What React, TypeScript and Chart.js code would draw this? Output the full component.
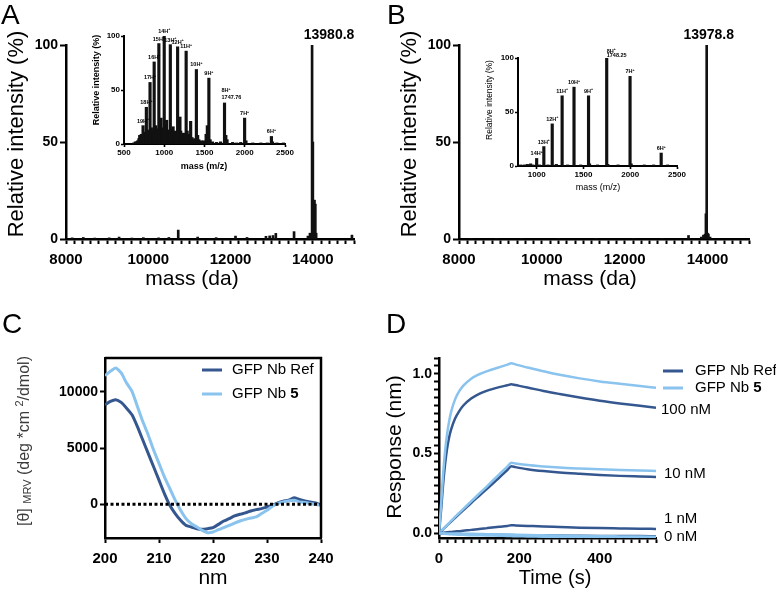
import React, { useEffect, useRef } from 'react';
import { Chart, registerables } from 'chart.js';

Chart.register(...registerables);

const W = 776;
const H = 594;
const FF = 'Arial, "Liberation Sans", Helvetica, sans-serif';
const INK = '#111111';
const DARK = '#35578F';
const LIGHT = '#89C3EE';

// ===== Panel A : deconvoluted mass spectrum =====
const massA = [8150, 8420, 8700, 9050, 9290, 9600, 9880, 10250, 10500, 10728, 11200, 11650, 12120, 12400, 12860, 12950, 13030, 13100, 13543, 13880, 13930, 13981, 14000, 14020, 14040, 14060, 14080, 14950];
const intensA = [0.6, 0.8, 0.5, 0.6, 1.0, 0.5, 0.7, 0.6, 0.8, 4.6, 1.0, 0.7, 1.5, 0.8, 1.4, 1.6, 1.8, 2.9, 3.8, 1.5, 3.0, 100, 50, 20, 20, 18, 3, 2];
const apexMassA = 13980.8;
const apexLabelA = '13980.8';

// ===== Panel A inset : m/z spectrum =====
const ionChargeA = [19, 18, 17, 16, 15, 14, 13, 12, 11, 10, 9, 8, 7, 6];
const ionMzA = [736.8, 777.7, 823.4, 874.8, 933.1, 999.6, 1075.5, 1166.1, 1272.0, 1399.1, 1554.4, 1748.6, 1998.3, 2331.1];
const ionIntA = [17, 34, 57, 76, 93, 100, 92, 90, 86, 69, 61, 38, 24, 7];
const bgMzA = [620, 640, 655, 670, 685, 695, 705, 715, 725, 745, 752, 760, 768, 790, 798, 805, 815, 832, 840, 848, 858, 866, 885, 895, 905, 915, 945, 952, 960, 968, 980, 988, 1010, 1020, 1030, 1040, 1050, 1060, 1088, 1100, 1110, 1120, 1130, 1140, 1150, 1178, 1188, 1195, 1205, 1215, 1230, 1245, 1255, 1285, 1300, 1315, 1328, 1345, 1360, 1380, 1415, 1430, 1460, 1490, 1520, 1535, 1570, 1600, 1650, 1700, 1765, 1780, 1850, 1900, 1950, 2015, 2100, 2200, 2280, 2345, 2400, 2480];
const bgIntA = [1, 2, 2, 3, 5, 8, 6, 9, 7, 10, 8, 11, 9, 13, 9, 12, 10, 11, 15, 10, 12, 9, 12, 17, 11, 14, 13, 18, 24, 15, 12, 10, 14, 18, 22, 12, 10, 13, 12, 14, 16, 10, 9, 12, 8, 14, 20, 25, 12, 9, 10, 8, 10, 12, 8, 9, 21, 6, 4, 5, 8, 4, 3, 3, 9, 17, 4, 2, 1.5, 2, 8, 4, 1.5, 1, 1.5, 3, 1, 1, 1, 2, 1, 1];
const noteChargeA = 8;
const noteTextA = '1747.76';

// ===== Panel B : deconvoluted mass spectrum =====
const massB = [8300, 8900, 9500, 10400, 11300, 12200, 12900, 13540, 13850, 13900, 13940, 13960, 13978.8, 14000, 14020, 14060];
const intensB = [0.3, 0.3, 0.2, 0.3, 0.2, 0.3, 0.3, 1.8, 1, 2, 2.5, 13, 100, 3, 2.5, 1];
const apexMassB = 13978.8;
const apexLabelB = '13978.8';

// ===== Panel B inset =====
const ionChargeB = [14, 13, 12, 11, 10, 9, 8, 7, 6];
const ionMzB = [999.5, 1076.3, 1165.9, 1271.8, 1398.9, 1554.2, 1748.4, 1998.0, 2330.8];
const ionIntB = [7, 18, 39, 65, 73, 65, 100, 83, 12];
const bgMzB = [830, 870, 900, 935, 960, 1030, 1120, 1210, 1330, 1470, 1565, 1650, 1760, 1870, 2010, 2150, 2250, 2400];
const bgIntB = [1, 1, 1.5, 2, 1, 1, 1, 1.5, 1, 1, 2, 1, 1.5, 1, 2, 1, 1, 1];
const noteChargeB = 8;
const noteTextB = '1748.25';

// ===== Panel C : CD spectra =====
const wavelengthC = [200, 201, 202, 203, 204, 205, 206, 207, 208, 209, 210, 211, 212, 213, 214, 215, 216, 217, 218, 219, 220, 221, 222, 223, 224, 225, 226, 227, 228, 229, 230, 231, 232, 233, 234, 235, 236, 237, 238, 239, 240];
const refC = [8840, 9140, 9290, 9050, 8540, 7950, 6900, 5710, 4520, 3330, 2140, 950, -90, -830, -1430, -1880, -2020, -2170, -2230, -2170, -2080, -1790, -1490, -1280, -1040, -890, -770, -600, -480, -390, -240, -90, 120, 270, 360, 570, 420, 300, 210, 120, -90];
const nb5C = [11430, 11820, 12110, 11670, 10770, 10030, 8690, 7350, 6160, 4820, 3630, 2440, 1400, 360, -540, -1280, -1730, -2020, -2320, -2530, -2470, -2260, -2080, -1880, -1670, -1490, -1340, -1220, -1130, -830, -540, -180, 60, 210, 300, 360, 210, 150, 60, -30, -90];
const zeroLineX = [200, 240];

// ===== Panel D : BLI sensorgrams =====
const timeD = [0, 3, 6, 10, 15, 20, 25, 30, 40, 50, 60, 80, 100, 120, 150, 170, 180, 190, 220, 260, 300, 350, 400, 450, 500, 540];
const refD100 = [0, 0.08, 0.17, 0.3, 0.43, 0.53, 0.6, 0.65, 0.72, 0.765, 0.8, 0.845, 0.875, 0.895, 0.917, 0.929, 0.935, 0.93, 0.915, 0.893, 0.874, 0.852, 0.832, 0.815, 0.8, 0.788];
const nb5D100 = [0, 0.1, 0.21, 0.36, 0.51, 0.62, 0.7, 0.76, 0.84, 0.89, 0.925, 0.97, 0.998, 1.018, 1.042, 1.058, 1.067, 1.06, 1.04, 1.017, 0.995, 0.972, 0.953, 0.938, 0.924, 0.913];
const refD10 = [0, 0.007, 0.014, 0.024, 0.037, 0.049, 0.061, 0.073, 0.097, 0.12, 0.143, 0.19, 0.235, 0.28, 0.35, 0.397, 0.42, 0.415, 0.402, 0.39, 0.381, 0.373, 0.366, 0.36, 0.356, 0.353];
const nb5D10 = [0, 0.008, 0.015, 0.025, 0.038, 0.051, 0.064, 0.077, 0.102, 0.127, 0.151, 0.2, 0.248, 0.296, 0.37, 0.418, 0.443, 0.438, 0.428, 0.419, 0.412, 0.406, 0.401, 0.397, 0.394, 0.391];
const refD1 = [0, 0.001, 0.002, 0.003, 0.004, 0.006, 0.007, 0.008, 0.011, 0.013, 0.016, 0.021, 0.027, 0.032, 0.04, 0.046, 0.05, 0.049, 0.046, 0.042, 0.039, 0.035, 0.032, 0.03, 0.028, 0.027];
const nb5D1 = [0, 0, 0, 0, -0.001, -0.001, -0.001, -0.002, -0.002, -0.003, -0.003, -0.004, -0.005, -0.006, -0.007, -0.008, -0.008, -0.009, -0.011, -0.013, -0.015, -0.017, -0.019, -0.02, -0.021, -0.022];
const refD0 = [0, -0.001, -0.001, -0.002, -0.002, -0.003, -0.003, -0.004, -0.004, -0.005, -0.006, -0.007, -0.008, -0.009, -0.01, -0.011, -0.012, -0.012, -0.013, -0.014, -0.015, -0.016, -0.017, -0.018, -0.018, -0.019];
const nb5D0 = [0, -0.001, -0.002, -0.003, -0.004, -0.005, -0.006, -0.007, -0.008, -0.009, -0.01, -0.012, -0.013, -0.014, -0.016, -0.017, -0.018, -0.019, -0.02, -0.022, -0.023, -0.024, -0.025, -0.026, -0.027, -0.028];
const concLabels = ['100 nM', '10 nM', '1 nM', '0 nM'];
const concLabelY = [0.774, 0.371, 0.088, -0.025];
const concLabelDx = [5, 8, 8, 8];

// ===== Axis tick labels =====
const majorMassX = [8000, 10000, 12000, 14000];
const majorPctY = [0, 50, 100];
const majorMzA = [500, 1000, 1500, 2000, 2500];
const majorMzB = [1000, 1500, 2000, 2500];
const majorNmX = [200, 210, 220, 230, 240];
const majorCdY = [0, 5000, 10000];
const majorTimeX = [0, 200, 400];
const majorRespY = [0, 0.5, 1.0];
const respLabels = ['0.0', '0.5', '1.0'];

const legendNames = ['GFP Nb Ref', 'GFP Nb '];
const legendBold = ['', '5'];

// ---------- helpers ----------
const range = (a: number, b: number, s: number) => {
  const out: number[] = [];
  for (let i = 0; a + i * s <= b + 1e-9; i++) out.push(+(a + i * s).toFixed(6));
  return out;
};
const near = (list: number[], v: number) => list.findIndex((m) => Math.abs(m - v) < 1e-6);
const font = (size: number, bold = false) => `${bold ? 'bold ' : ''}${size}px ${FF}`;

type Seg = { t: string; f: string; dy?: number };
function rich(ctx: CanvasRenderingContext2D, segs: Seg[], x: number, y: number, align: 'left' | 'center' | 'right' = 'center', rot = 0, color = '#000', baseline: CanvasTextBaseline = 'middle') {
  ctx.save();
  ctx.translate(x, y);
  if (rot) ctx.rotate(rot);
  ctx.textBaseline = baseline;
  ctx.textAlign = 'left';
  ctx.fillStyle = color;
  const widths = segs.map((s) => {
    ctx.font = s.f;
    return ctx.measureText(s.t).width;
  });
  const total = widths.reduce((a, b) => a + b, 0);
  let cx = align === 'left' ? 0 : align === 'right' ? -total : -total / 2;
  segs.forEach((s, i) => {
    ctx.font = s.f;
    ctx.fillText(s.t, cx, s.dy || 0);
    cx += widths[i];
  });
  ctx.restore();
}

type AxisSpec = {
  min: number;
  max: number;
  ticks: number[];
  label: (v: number) => string;
  size: number;
  font: number;
  tickLen: number;
  pad: number;
  border: number;
};

function axis(a: AxisSpec, horizontal: boolean) {
  return {
    type: 'linear',
    min: a.min,
    max: a.max,
    offset: false,
    afterFit: (s: any) => {
      if (horizontal) s.height = a.size;
      else s.width = a.size;
    },
    afterBuildTicks: (s: any) => {
      s.ticks = a.ticks.map((v) => ({ value: v }));
    },
    grid: {
      display: true,
      drawOnChartArea: false,
      drawTicks: true,
      tickLength: a.tickLen,
      tickWidth: Math.max(1.5, a.border * 0.8),
      tickColor: '#000',
      color: '#000',
      offset: false,
    },
    border: { display: true, color: '#000', width: a.border },
    ticks: {
      autoSkip: false,
      maxRotation: 0,
      minRotation: 0,
      padding: a.pad,
      color: '#000',
      font: { family: FF, size: a.font, weight: 'bold' },
      callback: (v: any) => a.label(Number(v)),
    },
    title: { display: false },
  };
}

type Area = { l: number; t: number; r: number; b: number };

function makeChart(
  canvas: HTMLCanvasElement,
  type: 'bar' | 'line',
  datasets: any[],
  area: Area,
  x: Omit<AxisSpec, 'size'>,
  y: Omit<AxisSpec, 'size'>,
  draw: (c: any, ctx: CanvasRenderingContext2D) => void
) {
  return new Chart(canvas, {
    type,
    data: { datasets },
    options: {
      responsive: false,
      animation: false,
      devicePixelRatio: 1,
      events: [],
      layout: { padding: { left: 0, top: area.t, right: W - area.r, bottom: 0 } },
      plugins: { legend: { display: false }, tooltip: { enabled: false }, title: { display: false } },
      scales: {
        x: axis({ ...x, size: H - area.b }, true),
        y: axis({ ...y, size: area.l }, false),
      },
    } as any,
    plugins: [
      {
        id: 'extras',
        afterDraw: (c: any) => draw(c, c.ctx),
      },
    ],
  } as any);
}

const pts = (xs: number[], ys: number[]) => xs.map((v, i) => ({ x: v, y: ys[i] }));

function ionLabels(c: any, ctx: CanvasRenderingContext2D, charges: number[], mz: number[], ints: number[], note: number, noteText: string, noteOff: [number, number, number]) {
  const sx = c.scales.x;
  const sy = c.scales.y;
  charges.forEach((z, i) => {
    const px = sx.getPixelForValue(mz[i]);
    const py = sy.getPixelForValue(ints[i]);
    const segs: Seg[] = [
      { t: `${z}H`, f: font(5.5, true) },
      { t: '+', f: font(3.5, true), dy: -2 },
    ];
    if (z === note) {
      rich(ctx, segs, px + noteOff[0], py - noteOff[1], 'left');
      rich(ctx, [{ t: noteText, f: font(5.5, true) }], px + noteOff[0], py - noteOff[2], 'left');
    } else {
      rich(ctx, segs, px, py - 4.5, 'center');
    }
  });
}

function buildMainA(cv: HTMLCanvasElement) {
  return makeChart(
    cv,
    'bar',
    [{ data: pts(massA, intensA), backgroundColor: INK, borderWidth: 0, barThickness: 2 }],
    { l: 66, t: 45, r: 354, b: 239 },
    { min: 8000, max: 15000, ticks: range(8000, 15000, 200), label: (v) => (near(majorMassX, v) >= 0 ? String(v) : ''), font: 15, tickLen: 5, pad: 7, border: 2.5 },
    { min: 0, max: 100, ticks: majorPctY, label: (v) => String(v), font: 14, tickLen: 6, pad: 2, border: 2.5 },
    (c, ctx) => {
      const px = c.scales.x.getPixelForValue(apexMassA);
      const py = c.scales.y.getPixelForValue(100);
      rich(ctx, [{ t: apexLabelA, f: font(14, true) }], px + 17, py - 10);
      rich(ctx, [{ t: 'Relative intensity (%)', f: font(22) }], 17, 134, 'center', -Math.PI / 2);
      rich(ctx, [{ t: 'mass (da)', f: font(21) }], 192, 279);
      rich(ctx, [{ t: 'A', f: font(28) }], 1, 24, 'left', 0, '#000', 'alphabetic');
    }
  );
}

function buildInsetA(cv: HTMLCanvasElement) {
  return makeChart(
    cv,
    'bar',
    [{ data: pts(bgMzA.concat(ionMzA), bgIntA.concat(ionIntA)), backgroundColor: INK, borderWidth: 0, barThickness: 2.5 }],
    { l: 124, t: 36, r: 285, b: 144 },
    { min: 500, max: 2500, ticks: majorMzA, label: (v) => String(v), font: 8, tickLen: 3, pad: 1, border: 2 },
    { min: 0, max: 100, ticks: majorPctY, label: (v) => String(v), font: 8, tickLen: 3, pad: 1, border: 2 },
    (c, ctx) => {
      ionLabels(c, ctx, ionChargeA, ionMzA, ionIntA, noteChargeA, noteTextA, [-3, 12, 5]);
      rich(ctx, [{ t: 'Relative intensity (%)', f: font(9, true) }], 97, 80, 'center', -Math.PI / 2);
      rich(ctx, [{ t: 'mass (m/z)', f: font(9, true) }], 204, 167);
    }
  );
}

function buildMainB(cv: HTMLCanvasElement) {
  return makeChart(
    cv,
    'bar',
    [{ data: pts(massB, intensB), backgroundColor: INK, borderWidth: 0, barThickness: 2 }],
    { l: 459, t: 45, r: 749, b: 239 },
    { min: 8000, max: 15000, ticks: range(8000, 15000, 200), label: (v) => (near(majorMassX, v) >= 0 ? String(v) : ''), font: 15, tickLen: 5, pad: 7, border: 2.5 },
    { min: 0, max: 100, ticks: majorPctY, label: (v) => String(v), font: 14, tickLen: 6, pad: 2, border: 2.5 },
    (c, ctx) => {
      const px = c.scales.x.getPixelForValue(apexMassB);
      const py = c.scales.y.getPixelForValue(100);
      rich(ctx, [{ t: apexLabelB, f: font(14, true) }], px + 2, py - 10);
      rich(ctx, [{ t: 'Relative intensity (%)', f: font(22) }], 410, 134, 'center', -Math.PI / 2);
      rich(ctx, [{ t: 'mass (da)', f: font(21) }], 590, 279);
      rich(ctx, [{ t: 'B', f: font(28) }], 387, 24, 'left', 0, '#000', 'alphabetic');
    }
  );
}

function buildInsetB(cv: HTMLCanvasElement) {
  return makeChart(
    cv,
    'bar',
    [{ data: pts(bgMzB.concat(ionMzB), bgIntB.concat(ionIntB)), backgroundColor: INK, borderWidth: 0, barThickness: 2.5 }],
    { l: 518, t: 58, r: 677, b: 166 },
    { min: 800, max: 2500, ticks: majorMzB, label: (v) => String(v), font: 8, tickLen: 3, pad: 1, border: 2 },
    { min: 0, max: 100, ticks: majorPctY, label: (v) => String(v), font: 8, tickLen: 3, pad: 1, border: 2 },
    (c, ctx) => {
      ionLabels(c, ctx, ionChargeB, ionMzB, ionIntB, noteChargeB, noteTextB, [0, 7, 3]);
      rich(ctx, [{ t: 'Relative intensity (%)', f: font(8.5) }], 490, 100, 'center', -Math.PI / 2);
      rich(ctx, [{ t: 'mass (m/z)', f: font(9) }], 598, 188);
    }
  );
}

function buildC(cv: HTMLCanvasElement) {
  return makeChart(
    cv,
    'line',
    [
      { data: pts(zeroLineX, [0, 0]), borderColor: '#000', borderWidth: 3, borderDash: [3, 2.5], pointRadius: 0 },
      { data: pts(wavelengthC, nb5C), borderColor: LIGHT, borderWidth: 3, pointRadius: 0, tension: 0.2 },
      { data: pts(wavelengthC, refC), borderColor: DARK, borderWidth: 3, pointRadius: 0, tension: 0.2 },
    ],
    { l: 105, t: 358, r: 321, b: 538 },
    { min: 200, max: 240, ticks: majorNmX, label: (v) => String(v), font: 15, tickLen: 5, pad: 7, border: 2.5 },
    { min: -3000, max: 13000, ticks: majorCdY, label: (v) => String(v), font: 14, tickLen: 5, pad: 2, border: 2.5 },
    (c, ctx) => {
      const a = c.chartArea;
      ctx.save();
      ctx.strokeStyle = '#000';
      ctx.lineWidth = 2.5;
      ctx.beginPath();
      ctx.moveTo(a.left, a.top);
      ctx.lineTo(a.right, a.top);
      ctx.lineTo(a.right, a.bottom);
      ctx.stroke();
      [DARK, LIGHT].forEach((col, i) => {
        const yy = 370 + i * 24;
        ctx.strokeStyle = col;
        ctx.lineWidth = 3;
        ctx.beginPath();
        ctx.moveTo(202, yy);
        ctx.lineTo(222, yy);
        ctx.stroke();
        rich(ctx, [{ t: legendNames[i], f: font(15) }, { t: legendBold[i], f: font(15, true) }], 232, yy, 'left');
      });
      ctx.restore();
      rich(
        ctx,
        [
          { t: '[θ] ', f: font(16) },
          { t: 'MRV', f: font(11), dy: 3 },
          { t: ' (deg *cm ', f: font(16) },
          { t: '2', f: font(11), dy: -5 },
          { t: '/dmol)', f: font(16) },
        ],
        25,
        441,
        'center',
        -Math.PI / 2,
        '#3a3a3a'
      );
      rich(ctx, [{ t: 'nm', f: font(21) }], 213, 578);
      rich(ctx, [{ t: 'C', f: font(28) }], 2, 333, 'left', 0, '#000', 'alphabetic');
    }
  );
}

function buildD(cv: HTMLCanvasElement) {
  const line = (ys: number[], col: string) => ({ data: pts(timeD, ys), borderColor: col, borderWidth: 2.5, pointRadius: 0, cubicInterpolationMode: 'monotone' });
  return makeChart(
    cv,
    'line',
    [
      line(nb5D0, LIGHT),
      line(nb5D1, LIGHT),
      line(refD0, DARK),
      line(refD1, DARK),
      line(nb5D10, LIGHT),
      line(refD10, DARK),
      line(nb5D100, LIGHT),
      line(refD100, DARK),
    ],
    { l: 439, t: 358, r: 656, b: 538 },
    { min: 0, max: 540, ticks: range(0, 540, 20), label: (v) => (near(majorTimeX, v) >= 0 ? String(v) : ''), font: 15, tickLen: 5, pad: 7, border: 2.5 },
    { min: -0.03, max: 1.1, ticks: range(0, 1.1, 0.05), label: (v) => { const k = near(majorRespY, v); return k >= 0 ? respLabels[k] : ''; }, font: 14, tickLen: 5, pad: 2, border: 2.5 },
    (c, ctx) => {
      const a = c.chartArea;
      const sy = c.scales.y;
      concLabels.forEach((t, i) => {
        rich(ctx, [{ t, f: font(15) }], a.right + concLabelDx[i], sy.getPixelForValue(concLabelY[i]), 'left');
      });
      ctx.save();
      [DARK, LIGHT].forEach((col, i) => {
        const yy = 371 + i * 17;
        ctx.strokeStyle = col;
        ctx.lineWidth = 3;
        ctx.beginPath();
        ctx.moveTo(663, yy);
        ctx.lineTo(683, yy);
        ctx.stroke();
        rich(ctx, [{ t: legendNames[i], f: font(15) }, { t: legendBold[i], f: font(15, true) }], 695, yy, 'left');
      });
      ctx.restore();
      rich(ctx, [{ t: 'Response (nm)', f: font(21) }], 395, 447, 'center', -Math.PI / 2);
      rich(ctx, [{ t: 'Time (s)', f: font(20) }], 555, 578);
      rich(ctx, [{ t: 'D', f: font(28) }], 386, 333, 'left', 0, '#000', 'alphabetic');
    }
  );
}

export default function App() {
  const cvs = useRef<(HTMLCanvasElement | null)[]>([]);
  useEffect(() => {
    const builders = [buildMainA, buildMainB, buildC, buildD, buildInsetA, buildInsetB];
    const charts = builders.map((b, i) => b(cvs.current[i] as HTMLCanvasElement));
    return () => charts.forEach((c) => c.destroy());
  }, []);
  return (
    <div style={{ position: 'absolute', left: 0, top: 0, width: W, height: H, background: '#fff', overflow: 'hidden' }}>
      {[0, 1, 2, 3, 4, 5].map((i) => (
        <canvas
          key={i}
          ref={(el) => {
            cvs.current[i] = el;
          }}
          width={W}
          height={H}
          style={{ position: 'absolute', left: 0, top: 0, width: W, height: H }}
        />
      ))}
    </div>
  );
}
